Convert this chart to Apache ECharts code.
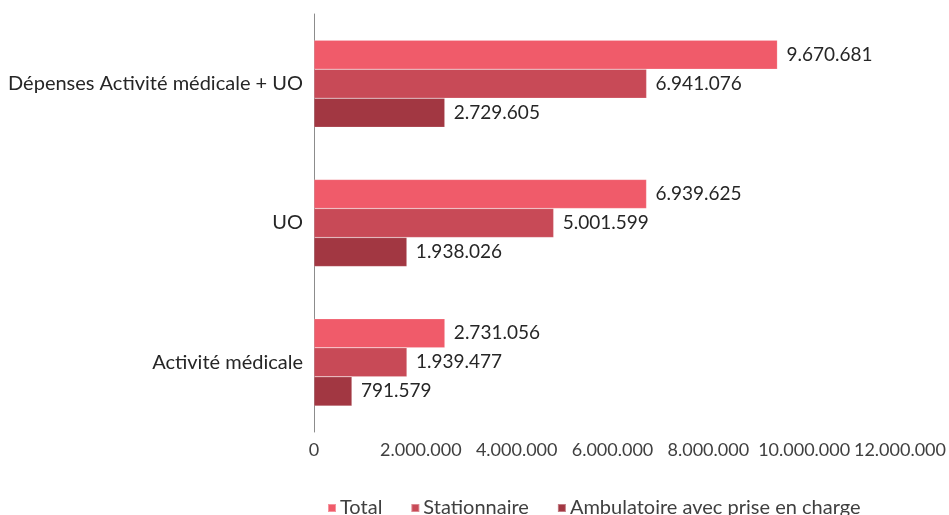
<!DOCTYPE html>
<html>
<head>
<meta charset="utf-8">
<script src="https://cdn.jsdelivr.net/npm/echarts@6/dist/echarts.min.js"></script>
<style>
  html, body { margin: 0; padding: 0; background: #fff; }
  #chart { width: 949px; height: 515px; }
</style>
</head>
<body>
<div id="chart"></div>
<script>
// Categories listed top to bottom (the y axis is inverted)
const categories = ['Dépenses Activité médicale + UO', 'UO', 'Activité médicale'];
const seriesNames = ['Total', 'Stationnaire', 'Ambulatoire avec prise en charge'];
const totalValues = [9670681, 6939625, 2731056];
const stationnaireValues = [6941076, 5001599, 1939477];
const ambulatoireValues = [2729605, 1938026, 791579];
const xTicks = [0, 2000000, 4000000, 6000000, 8000000, 10000000, 12000000];

const colors = ['#F05B6A', '#C84A57', '#A23742'];
const FONT = 'Lato, "Open Sans", sans-serif';

// Thousands separated with dots: 9670681 -> 9.670.681
function fmt(v) {
  return String(Math.round(v)).replace(/\B(?=(\d{3})+(?!\d))/g, '.');
}

const values = [totalValues, stationnaireValues, ambulatoireValues];

const chart = echarts.init(document.getElementById('chart'), null, { renderer: 'canvas' });
chart.setOption({
  animation: false,
  backgroundColor: '#ffffff',
  grid: { left: 314, right: 59, top: 14, bottom: 83, containLabel: false },
  legend: {
    data: seriesNames,
    left: 327,
    top: 498,
    padding: 0,
    itemWidth: 8,
    itemHeight: 8,
    itemGap: 28,
    icon: 'rect',
    textStyle: { fontFamily: FONT, fontSize: 20, color: '#404040', padding: [0, 0, 0, -1] }
  },
  xAxis: {
    type: 'value',
    min: xTicks[0],
    max: xTicks[xTicks.length - 1],
    interval: xTicks[1] - xTicks[0],
    splitLine: { show: false },
    axisLine: { show: false },
    axisTick: { show: false },
    axisLabel: {
      margin: 9,
      formatter: function (v) { return v === 0 ? '{z|0}' : '{n|' + fmt(v) + '}'; },
      rich: {
        z: { fontFamily: FONT, fontSize: 18, color: '#404040' },
        n: { fontFamily: FONT, fontSize: 18, color: '#404040', padding: [0, 0, 0, 22] }
      }
    }
  },
  yAxis: {
    type: 'category',
    data: categories,
    inverse: true,
    axisLine: { show: true, lineStyle: { color: '#8C8C8C', width: 1 } },
    axisTick: { show: false },
    axisLabel: { fontFamily: FONT, fontSize: 20, color: '#262626', margin: 11 }
  },
  series: seriesNames.map(function (name, i) {
    return {
      name: name,
      type: 'bar',
      data: values[i],
      barGap: '0%',
      barCategoryGap: '37.5%',
      itemStyle: { color: colors[i], borderColor: 'rgba(255,255,255,0.35)', borderWidth: 0.5 },
      label: {
        show: true,
        position: 'right',
        distance: 9,
        fontFamily: FONT,
        fontSize: 19,
        color: '#262626',
        formatter: function (p) { return fmt(p.value); }
      }
    };
  })
});
</script>
</body>
</html>
